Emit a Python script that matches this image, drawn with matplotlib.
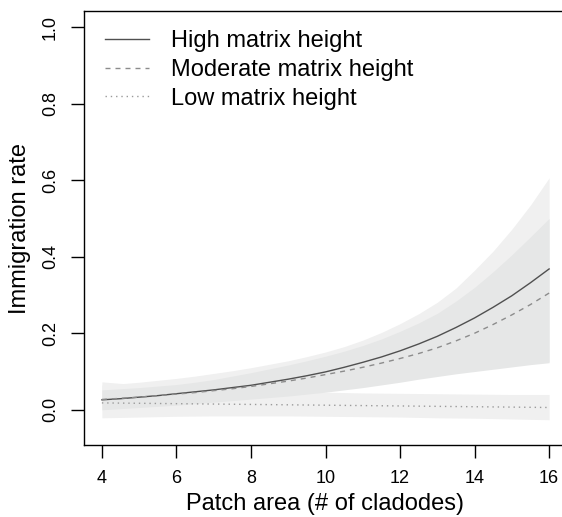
import matplotlib

matplotlib.use("Agg")

import matplotlib.pyplot as plt

# patch area (# of cladodes)
patch_area = [4.0, 4.5, 5.0, 5.5, 6.0, 6.5, 7.0, 7.5, 8.0, 8.5, 9.0, 9.5, 10.0,
              10.5, 11.0, 11.5, 12.0, 12.5, 13.0, 13.5, 14.0, 14.5, 15.0, 15.5, 16.0]

# fitted immigration rates
high_rate = [0.026, 0.029, 0.033, 0.037, 0.042, 0.047, 0.052, 0.058, 0.064, 0.072,
             0.080, 0.089, 0.099, 0.111, 0.124, 0.138, 0.154, 0.172, 0.192, 0.215,
             0.240, 0.268, 0.298, 0.332, 0.368]
moderate_rate = [0.027, 0.030, 0.033, 0.037, 0.041, 0.045, 0.050, 0.055, 0.061, 0.068,
                 0.075, 0.083, 0.092, 0.101, 0.111, 0.122, 0.134, 0.147, 0.162, 0.180,
                 0.200, 0.223, 0.248, 0.275, 0.305]
low_rate = [0.018, 0.0175, 0.017, 0.0165, 0.016, 0.0155, 0.015, 0.0145, 0.014, 0.0135,
            0.013, 0.0125, 0.012, 0.0115, 0.011, 0.0105, 0.010, 0.0095, 0.009, 0.0085,
            0.008, 0.0075, 0.007, 0.0065, 0.006]

# confidence bands
high_upper = [0.065, 0.068, 0.072, 0.077, 0.082, 0.088, 0.095, 0.102, 0.110, 0.119,
              0.128, 0.139, 0.151, 0.165, 0.182, 0.202, 0.225, 0.251, 0.281, 0.318,
              0.365, 0.415, 0.472, 0.535, 0.606]
high_lower = [0.004, 0.007, 0.010, 0.013, 0.016, 0.020, 0.024, 0.028, 0.032, 0.036,
              0.040, 0.045, 0.050, 0.056, 0.062, 0.069, 0.076, 0.084, 0.091, 0.098,
              0.104, 0.110, 0.116, 0.121, 0.126]
moderate_upper = [0.052, 0.055, 0.058, 0.062, 0.066, 0.072, 0.079, 0.088, 0.097, 0.107,
                  0.117, 0.128, 0.140, 0.153, 0.168, 0.185, 0.205, 0.227, 0.252, 0.284,
                  0.320, 0.361, 0.405, 0.452, 0.500]
moderate_lower = [0.000, 0.003, 0.006, 0.009, 0.012, 0.016, 0.020, 0.024, 0.028, 0.032,
                  0.036, 0.041, 0.046, 0.052, 0.058, 0.065, 0.072, 0.080, 0.087, 0.094,
                  0.100, 0.106, 0.112, 0.118, 0.123]
low_upper = [0.073, 0.069, 0.066, 0.063, 0.060, 0.057, 0.055, 0.053, 0.051, 0.049,
             0.048, 0.047, 0.046, 0.045, 0.044, 0.0435, 0.043, 0.0425, 0.042, 0.0415,
             0.041, 0.0405, 0.040, 0.040, 0.040]
low_lower = [-0.021, -0.020, -0.019, -0.018, -0.017, -0.0165, -0.016, -0.016, -0.016, -0.016,
             -0.016, -0.0165, -0.017, -0.0175, -0.018, -0.0185, -0.019, -0.020, -0.021, -0.0215,
             -0.022, -0.023, -0.024, -0.025, -0.026]

x_ticks = [4, 6, 8, 10, 12, 14, 16]
y_ticks = [0.0, 0.2, 0.4, 0.6, 0.8, 1.0]

plt.rcParams["font.family"] = ["Liberation Sans", "DejaVu Sans"]

W, H = 562, 517
fig = plt.figure(figsize=(W / 100, H / 100), dpi=100)
# the box runs past the right edge of the picture, as in the original crop
ax = fig.add_axes([84 / W, 1 - 445 / H, 483 / W, 434 / H])

light = "#f0f0f0"
mid = "#e6e7e7"
ax.fill_between(patch_area, low_lower, low_upper, color=light, lw=0)
ax.fill_between(patch_area, high_lower, high_upper, color=light, lw=0)
ax.fill_between(patch_area, moderate_lower, moderate_upper, color=mid, lw=0)

ax.plot(patch_area, high_rate, color="#505050", lw=1.0, label="High matrix height")
ax.plot(patch_area, moderate_rate, color="#8c8c8c", lw=1.0, dashes=(3.6, 3.6),
        label="Moderate matrix height")
ax.plot(patch_area, low_rate, color="#9a9a9a", lw=1.0, dashes=(1.0, 2.8),
        label="Low matrix height")

ax.set_xlim(3.52, 16.48)
ax.set_ylim(-0.092, 1.042)
ax.set_xticks(x_ticks)
ax.set_xticklabels([str(v) for v in x_ticks])
ax.set_yticks(y_ticks)
ax.set_yticklabels([f"{v:.1f}" for v in y_ticks], rotation=90, va="center")

for spine in ax.spines.values():
    spine.set_linewidth(1.0)
    spine.set_color("black")
ax.tick_params(direction="out", length=9.5, width=1.0, labelsize=13, pad=8.5)

ax.set_xlabel("Patch area (# of cladodes)", fontsize=17, labelpad=4)
ax.set_ylabel("Immigration rate", fontsize=17, labelpad=8)

ax.legend(loc="upper left", bbox_to_anchor=(105 / W, 1 - 30 / H),
          bbox_transform=fig.transFigure, frameon=False, fontsize=17,
          handlelength=1.86, handletextpad=0.93, labelspacing=0.29,
          borderpad=0, borderaxespad=0)

fig.savefig("out.png", dpi=100)
